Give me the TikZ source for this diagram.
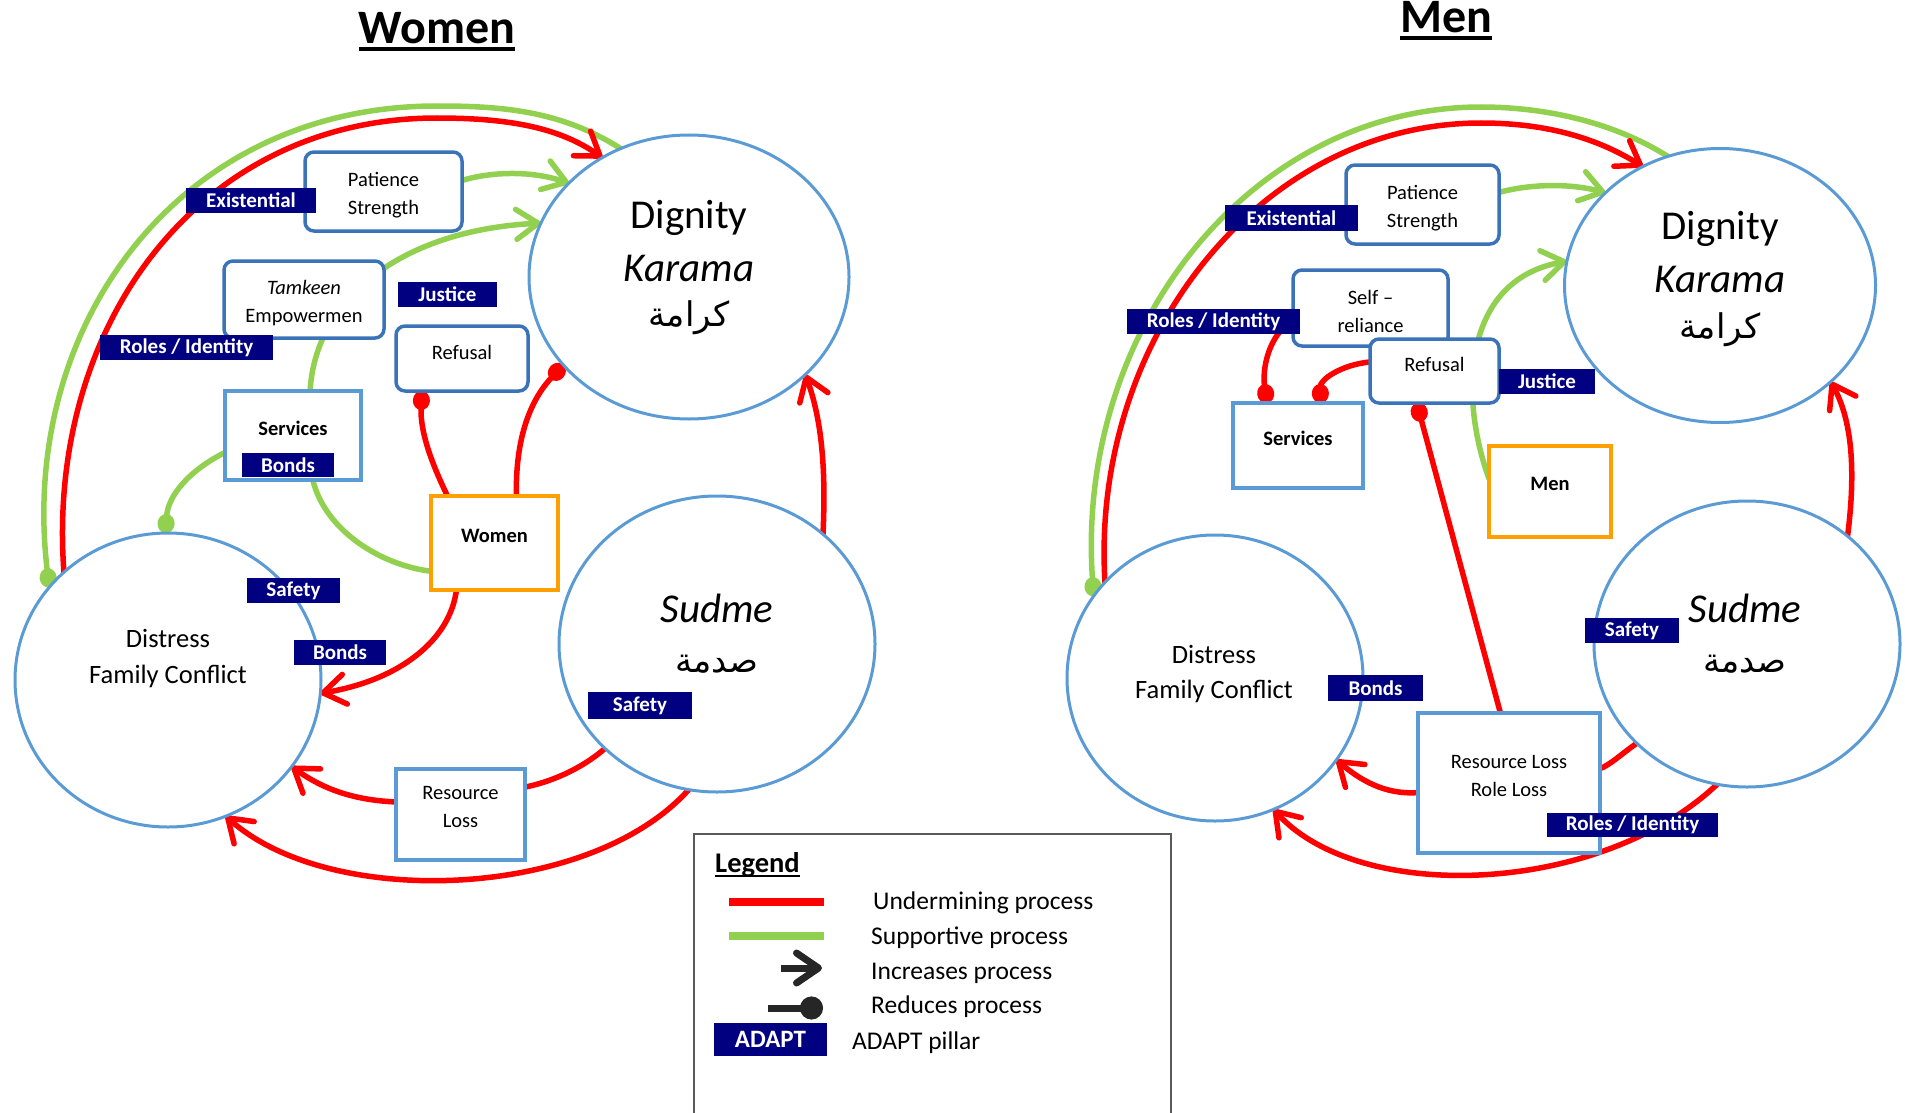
\documentclass[tikz,border=0pt]{standalone}
\usepackage{fontspec}
\setmainfont{Carlito}
\newfontfamily\arabicfont[Script=Arabic]{DejaVu Sans}
\TeXXeTstate=1
\usetikzlibrary{arrows.meta,shapes.geometric}
\definecolor{ured}{HTML}{FF0000}
\definecolor{ugreen}{HTML}{92D050}
\definecolor{cblue}{HTML}{5B9BD5}
\definecolor{bblue}{HTML}{3A73B8}
\definecolor{sblue}{HTML}{5B9BD5}
\definecolor{orng}{HTML}{FFA000}
\definecolor{navy}{HTML}{000080}
\definecolor{lgray}{HTML}{595959}
\definecolor{dark}{HTML}{262626}
\pgfdeclarelayer{bg}
\pgfsetlayers{bg,main}
\tikzset{
 circ/.style={ellipse, draw=cblue, line width=3pt, fill=white, inner sep=0pt, outer sep=0pt},
 rbox/.style={rectangle, rounded corners=9pt, draw=bblue, line width=3.5pt, fill=white, inner sep=0pt, outer sep=0pt},
 sbox/.style={rectangle, draw=sblue, line width=3.5pt, fill=white, inner sep=0pt, outer sep=0pt},
 obox/.style={rectangle, draw=orng, line width=4pt, fill=white, inner sep=0pt, outer sep=0pt},
 pill/.style={rectangle, fill=navy, text=white, font=\bfseries\fontsize{21}{25}\selectfont, inner sep=0pt, outer sep=0pt},
 btxt/.style={font=\fontsize{20.5}{28}\selectfont, align=center, inner sep=0pt},
 bbtxt/.style={font=\bfseries\fontsize{20.5}{28}\selectfont, align=center, inner sep=0pt},
 ctxt/.style={font=\fontsize{26.5}{32}\selectfont, inner sep=0pt, anchor=base},
 htxt/.style={font=\fontsize{41}{48}\selectfont, inner sep=0pt, anchor=base},
 hitxt/.style={font=\itshape\fontsize{41}{48}\selectfont, inner sep=0pt, anchor=base},
 atxt/.style={font=\arabicfont\fontsize{34}{40}\selectfont, inner sep=0pt, anchor=base},
 ltxt/.style={font=\fontsize{25.5}{30}\selectfont, inner sep=0pt, anchor=base west},
 ttl/.style={font=\bfseries\fontsize{48}{56}\selectfont, inner sep=0pt, anchor=base},
 undermine/.style={draw=ured, line width=5.5pt, line cap=round},
 support/.style={draw=ugreen, line width=5.5pt, line cap=round},
 incr/.style={-{Straight Barb[length=22pt,width=30pt,round]}},
 redu/.style={-{Circle[length=19pt,width=17pt]}},
}
\begin{document}
\begin{tikzpicture}[x=1pt,y=1pt]
\useasboundingbox (0,0) rectangle (1905,-1113);

% ---------- titles
\node[ttl] (titW) at (437,-44) {Women};
\draw[line width=4pt] ([yshift=-5pt]titW.base west) -- ([yshift=-5pt]titW.base east);
\node[ttl] (titM) at (1446,-33) {Men};
\draw[line width=4pt] ([yshift=-5pt]titM.base west) -- ([yshift=-5pt]titM.base east);

% ---------- WOMEN: circles
\node[circ, minimum width=320pt, minimum height=284pt] (dignL) at (689,-277) {};
\node[circ, minimum width=316pt, minimum height=296pt] (sudL) at (717,-644) {};
\node[circ, minimum width=306pt, minimum height=294pt] (distL) at (168,-680) {};
\node[htxt] (dignLa) at (689,-228) {Dignity};
\node[hitxt] (dignLb) at (689,-281) {Karama};
\node[atxt] (dignLc) at (689,-326) {\beginR كرامة\endR};
\node[hitxt] (sudLa) at (717,-622) {Sudme};
\node[atxt] (sudLb) at (717,-672) {\beginR صدمة\endR};
\node[ctxt] (distLa) at (168,-647) {Distress};
\node[ctxt] (distLb) at (168,-683) {Family Conflict};

% ---------- WOMEN: boxes
\node[rbox, minimum width=157pt, minimum height=79pt] (patL) at (383.5,-191.5) {};
\node[btxt] (patLt) at (383.5,-195) {Patience\\Strength};
\node[rbox, minimum width=160pt, minimum height=77pt] (tamL) at (304,-299.5) {};
\node[btxt] (tamLt) at (304,-303) {\textit{Tamkeen}\\Empowermen};
\node[rbox, minimum width=132pt, minimum height=65pt] (refL) at (462,-358.5) {};
\node[btxt] (refLt) at (462,-352) {Refusal};
\node[sbox, minimum width=136pt, minimum height=89pt] (servL) at (293,-435.5) {};
\node[bbtxt] (servLt) at (293,-428) {Services};
\node[obox, minimum width=127pt, minimum height=94pt] (womL) at (494.5,-543) {};
\node[bbtxt] (womLt) at (494.5,-536) {Women};
\node[sbox, minimum width=129pt, minimum height=91pt] (resL) at (460.5,-814.5) {};
\node[btxt] (resLt) at (460.5,-807) {Resource\\Loss};

% ---------- MEN: circles
\node[circ, minimum width=311pt, minimum height=274pt] (dignR) at (1720,-285.5) {};
\node[circ, minimum width=306pt, minimum height=286pt] (sudR) at (1747,-644) {};
\node[circ, minimum width=296pt, minimum height=286pt] (distR) at (1215,-678) {};
\node[htxt] (dignRa) at (1720,-239) {Dignity};
\node[hitxt] (dignRb) at (1720,-292) {Karama};
\node[atxt] (dignRc) at (1720,-338) {\beginR كرامة\endR};
\node[hitxt] (sudRa) at (1745,-622) {Sudme};
\node[atxt] (sudRb) at (1745,-672) {\beginR صدمة\endR};
\node[ctxt] (distRa) at (1214,-663) {Distress};
\node[ctxt] (distRb) at (1214,-698) {Family Conflict};

% ---------- MEN: boxes
\node[rbox, minimum width=153pt, minimum height=79pt] (patR) at (1422.5,-204.5) {};
\node[btxt] (patRt) at (1422.5,-208) {Patience\\Strength};
\node[rbox, minimum width=155pt, minimum height=76pt] (selfR) at (1370.5,-308) {};
\node[btxt] (selfRt) at (1370.5,-311) {Self --\\reliance};
\node[rbox, minimum width=129pt, minimum height=64pt] (refR) at (1434.5,-371) {};
\node[btxt] (refRt) at (1434.5,-364) {Refusal};
\node[sbox, minimum width=130pt, minimum height=85pt] (servR) at (1298,-445.5) {};
\node[bbtxt] (servRt) at (1298,-438) {Services};
\node[obox, minimum width=122pt, minimum height=91pt] (menR) at (1550,-491.5) {};
\node[bbtxt] (menRt) at (1550,-484) {Men};
\node[sbox, minimum width=182pt, minimum height=140pt] (resR) at (1509,-783) {};
\node[btxt] (resRt) at (1509,-776) {Resource Loss\\Role Loss};

% ---------- ADAPT pillars
\node[pill, minimum width=130pt, minimum height=25pt] (exL) at (251,-200.5) {Existential};
\node[pill, minimum width=173pt, minimum height=25pt] (roL) at (186.5,-347.5) {Roles / Identity};
\node[pill, minimum width=99pt, minimum height=25pt] (juL) at (447.5,-294.5) {Justice};
\node[pill, minimum width=92pt, minimum height=24pt] (boL1) at (288,-465) {Bonds};
\node[pill, minimum width=93pt, minimum height=25pt] (saL1) at (293.5,-590.5) {Safety};
\node[pill, minimum width=92pt, minimum height=25pt] (boL2) at (340,-652.5) {Bonds};
\node[pill, minimum width=104pt, minimum height=27pt] (saL2) at (640,-705.5) {Safety};
\node[pill, minimum width=133pt, minimum height=26pt] (exR) at (1291.5,-218) {Existential};
\node[pill, minimum width=173pt, minimum height=25pt] (roR) at (1213.5,-321.5) {Roles / Identity};
\node[pill, minimum width=96pt, minimum height=25pt] (juR) at (1547,-381.5) {Justice};
\node[pill, minimum width=94pt, minimum height=25pt] (saR) at (1632,-630.5) {Safety};
\node[pill, minimum width=95pt, minimum height=26pt] (boR) at (1375.5,-688) {Bonds};
\node[pill, minimum width=171pt, minimum height=24pt] (roR2) at (1632.5,-825) {Roles / Identity};

% ---------- connectors
\begin{pgfonlayer}{bg}
% women
\draw[support, redu] (dignL.118) .. controls (560,-110) and (500,-106) .. (437,-106)
   .. controls (175,-106) and (18,-330) .. (distL.142);
\draw[undermine, incr] (distL.134) .. controls (46,-330) and (195,-118) .. (437,-118)
   .. controls (510,-118) and (560,-128) .. (dignL.126);
\draw[support, incr] (patL.8) .. controls (490,-172) and (530,-170) .. (dignL.142);
\draw[support, incr] (servL.69) .. controls (315,-300) and (400,-230) .. (dignL.160);
\draw[support, redu] (servL.194) .. controls (190,-470) and (168,-495) .. (distL.91);
\draw[support] (servL.-66) .. controls (325,-530) and (380,-565) .. (womL.204);
\draw[undermine, redu] (womL.135) .. controls (430,-460) and (420,-430) .. (refL.219);
\draw[undermine, redu] (womL.65) .. controls (515,-430) and (535,-395) .. (dignL.215);
\draw[undermine, incr] (womL.-129) .. controls (450,-640) and (400,-680) .. (distL.-5);
\draw[undermine, incr] (sudL.46) .. controls (826,-470) and (822,-420) .. (dignL.-40);
\draw[undermine] (sudL.223) .. controls (580,-770) and (550,-782) .. (resL.23);
\draw[undermine, incr] (resL.169) .. controls (350,-800) and (320,-787) .. (distL.-35);
\draw[undermine, incr] (sudL.259) .. controls (590,-900) and (330,-910) .. (distL.-67);
% men
\draw[support, redu] (dignR.112) .. controls (1610,-120) and (1540,-107) .. (1481,-107)
   .. controls (1250,-107) and (1075,-330) .. (distR.146);
\draw[undermine, incr] (distR.139) .. controls (1090,-340) and (1260,-123) .. (1481,-123)
   .. controls (1550,-123) and (1600,-140) .. (dignR.123);
\draw[support, incr] (patR.9) .. controls (1530,-184) and (1570,-183) .. (dignR.141);
\draw[support, incr] (menR.168) .. controls (1460,-400) and (1460,-280) .. (dignR.171);
\draw[undermine, redu] (selfR.189) .. controls (1268,-335) and (1262,-370) .. (servR.126);
\draw[undermine, redu] (refR.172) .. controls (1340,-365) and (1320,-380) .. (servR.62);
\draw[undermine, redu] (resR.97) -- (refR.241);
\draw[undermine, incr] (sudR.47) .. controls (1856,-470) and (1852,-420) .. (dignR.-41);
\draw[undermine] (sudR.222) .. controls (1620,-755) and (1610,-765) .. (resR.9);
\draw[undermine, incr] (resR.186) .. controls (1385,-795) and (1360,-780) .. (distR.-34);
\draw[undermine, incr] (sudR.258) .. controls (1600,-895) and (1360,-905) .. (distR.-66);
\end{pgfonlayer}

% ---------- legend
\node[draw=lgray, line width=1.5pt, minimum width=477pt, minimum height=300pt, anchor=north west, inner sep=0pt, outer sep=0pt] (legbox) at (694,-834) {};
\node[font=\bfseries\fontsize{28.5}{34}\selectfont, inner sep=0pt, anchor=base west] (legT) at (715,-872) {Legend};
\draw[line width=2.5pt] ([yshift=-4pt]legT.base west) -- ([yshift=-4pt]legT.base east);
\coordinate (l1a) at (729,-902); \coordinate (l1b) at (824,-902);
\draw[draw=ured, line width=8pt] (l1a) -- (l1b);
\coordinate (l2a) at (729,-935.5); \coordinate (l2b) at (824,-935.5);
\draw[draw=ugreen, line width=8pt] (l2a) -- (l2b);
\coordinate (l3a) at (781,-968); \coordinate (l3b) at (822,-968);
\draw[draw=dark, line width=7pt, -{Straight Barb[length=22pt,width=30pt,round]}] (l3a) -- (l3b);
\coordinate (l4a) at (768,-1008); \coordinate (l4b) at (823,-1008);
\draw[draw=dark, fill=dark, line width=7pt, -{Circle[length=23pt,width=23pt]}] (l4a) -- (l4b);
\node[pill, font=\bfseries\fontsize{25}{30}\selectfont, minimum width=113pt, minimum height=33pt] (legA) at (770.5,-1039) {ADAPT};
\node[ltxt] (lt1) at (873,-909) {Undermining process};
\node[ltxt] (lt2) at (871,-944) {Supportive process};
\node[ltxt] (lt3) at (871,-979) {Increases process};
\node[ltxt] (lt4) at (871,-1013) {Reduces process};
\node[ltxt] (lt5) at (852,-1049) {ADAPT pillar};
\end{tikzpicture}
\end{document}
